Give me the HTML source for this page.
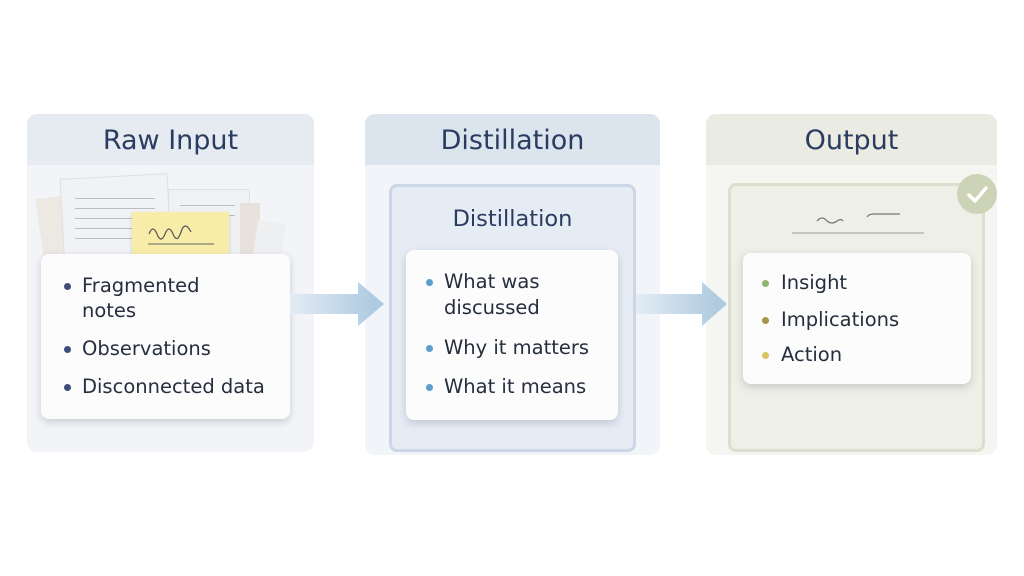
<!DOCTYPE html>
<html><head><style>
body{margin:0;width:1024px;height:576px;background:#fff;position:relative;font-family:"DejaVu Sans","Liberation Sans",sans-serif;overflow:hidden}
.a{position:absolute}
.panel{position:absolute;border-radius:10px;overflow:hidden}
.hd{position:absolute;left:0;right:0;top:0;height:51px;text-align:center;font-size:27px;line-height:54px;color:#2a3d60}
.card{position:absolute;background:#fcfcfd;border-radius:8px;box-shadow:0 3px 8px rgba(60,70,90,.22)}
.li{position:absolute;font-size:19.5px;color:#262e3e;white-space:nowrap}
.dot{position:absolute;width:7px;height:7px;border-radius:50%}
.ln{position:absolute;height:1px;background:#b9bec6}
</style></head><body>
<div class="panel" style="left:27px;top:114px;width:287px;height:338px;background:#f2f4f8">
<div class="hd" style="background:#e6eaf1">Raw Input</div></div>
<div class="a" style="left:40px;top:195px;width:60px;height:70px;background:#ece8e2;transform:rotate(-8deg)"></div>
<div class="a" style="left:62px;top:176px;width:106px;height:90px;background:#f1f2f4;border:1px solid #dde0e4;transform:rotate(-3deg)"></div>
<div class="a" style="left:168px;top:189px;width:80px;height:75px;background:#f0f1f3;border:1px solid #dde0e4"></div>
<div class="a" style="left:240px;top:203px;width:20px;height:60px;background:#e8e2dc"></div>
<div class="a" style="left:255px;top:222px;width:28px;height:40px;background:#eeeff1;transform:rotate(8deg)"></div>
<div class="ln" style="left:75px;top:198px;width:80px"></div>
<div class="ln" style="left:75px;top:208px;width:80px"></div>
<div class="ln" style="left:75px;top:218px;width:80px"></div>
<div class="ln" style="left:75px;top:228px;width:80px"></div>
<div class="ln" style="left:75px;top:238px;width:80px"></div>
<div class="ln" style="left:180px;top:205px;width:55px"></div>
<div class="ln" style="left:180px;top:215px;width:55px"></div>
<div class="a" style="left:132px;top:212px;width:97px;height:50px;background:#f7eca8;box-shadow:0 2px 4px rgba(0,0,0,.15)"></div>
<svg class="a" style="left:132px;top:212px" width="97" height="50"><path d="M17 22 q4-10 8 0 t8 0 t8 0 t8-2 t10 0" fill="none" stroke="#555" stroke-width="1.2"/><line x1="16" y1="32" x2="82" y2="32" stroke="#666" stroke-width="1"/></svg>
<div class="card" style="left:41px;top:254px;width:249px;height:165px"></div>
<div class="dot" style="left:64px;top:283px;background:#3e4e78"></div>
<div class="li" style="left:82px;top:274px">Fragmented</div>
<div class="li" style="left:82px;top:299px">notes</div>
<div class="dot" style="left:64px;top:346px;background:#3e4e78"></div>
<div class="li" style="left:82px;top:337px">Observations</div>
<div class="dot" style="left:64px;top:384px;background:#3e4e78"></div>
<div class="li" style="left:82px;top:375px">Disconnected data</div>
<div class="panel" style="left:365px;top:114px;width:295px;height:341px;background:#f1f4f8">
<div class="hd" style="background:#dce4ee">Distillation</div></div>
<div class="a" style="left:389px;top:184px;width:241px;height:262px;border:3px solid #cbd7e6;border-radius:8px;background:#e6ecf4"></div>
<div class="a" style="left:389px;top:206px;width:247px;text-align:center;font-size:22.5px;color:#2a3d60">Distillation</div>
<div class="card" style="left:406px;top:250px;width:212px;height:170px"></div>
<div class="dot" style="left:426px;top:279px;background:#5b9ec9"></div>
<div class="li" style="left:444px;top:270px">What was</div>
<div class="li" style="left:444px;top:296px">discussed</div>
<div class="dot" style="left:426px;top:345px;background:#5b9ec9"></div>
<div class="li" style="left:444px;top:336px">Why it matters</div>
<div class="dot" style="left:426px;top:384px;background:#5b9ec9"></div>
<div class="li" style="left:444px;top:375px">What it means</div>
<div class="panel" style="left:706px;top:114px;width:291px;height:341px;background:#f5f5f1">
<div class="hd" style="background:#eaebe2">Output</div></div>
<div class="a" style="left:728px;top:183px;width:251px;height:263px;border:3px solid #dcdfcd;border-radius:8px;background:#eeefe7"></div>
<svg class="a" style="left:790px;top:205px" width="140" height="30"><path d="M27 16 q5-6 10 0 q5 4 10 0 q4-3 6 0 M77 12 q2-3 6-3 H110" fill="none" stroke="#777" stroke-width="1.2"/><line x1="2" y1="28" x2="134" y2="28" stroke="#999" stroke-width="1"/></svg>
<div class="a" style="left:957px;top:174px;width:40px;height:40px;border-radius:50%;background:#cdd3b6"></div>
<svg class="a" style="left:957px;top:174px" width="40" height="40"><path d="M12 21 L18 27 L29 14" fill="none" stroke="#fff" stroke-width="3.5" stroke-linecap="round" stroke-linejoin="round"/></svg>
<div class="card" style="left:743px;top:253px;width:228px;height:131px"></div>
<div class="dot" style="left:762px;top:280px;background:#8fb56e"></div>
<div class="li" style="left:781px;top:271px">Insight</div>
<div class="dot" style="left:762px;top:317px;background:#a8934a"></div>
<div class="li" style="left:781px;top:308px">Implications</div>
<div class="dot" style="left:762px;top:352px;background:#d6c65e"></div>
<div class="li" style="left:781px;top:343px">Action</div>
<svg class="a" style="left:290px;top:280px" width="100" height="50"><defs><linearGradient id="g" x1="0" x2="1"><stop offset="0" stop-color="#e3ecf4"/><stop offset="1" stop-color="#a9c7de"/></linearGradient></defs><path d="M0 14 H68 V2 L94 24 L68 46 V34 H0Z" fill="url(#g)"/></svg>
<svg class="a" style="left:636px;top:280px" width="100" height="50"><path d="M0 14 H66 V2 L91 24 L66 46 V34 H0Z" fill="url(#g)"/></svg>
</body></html>
